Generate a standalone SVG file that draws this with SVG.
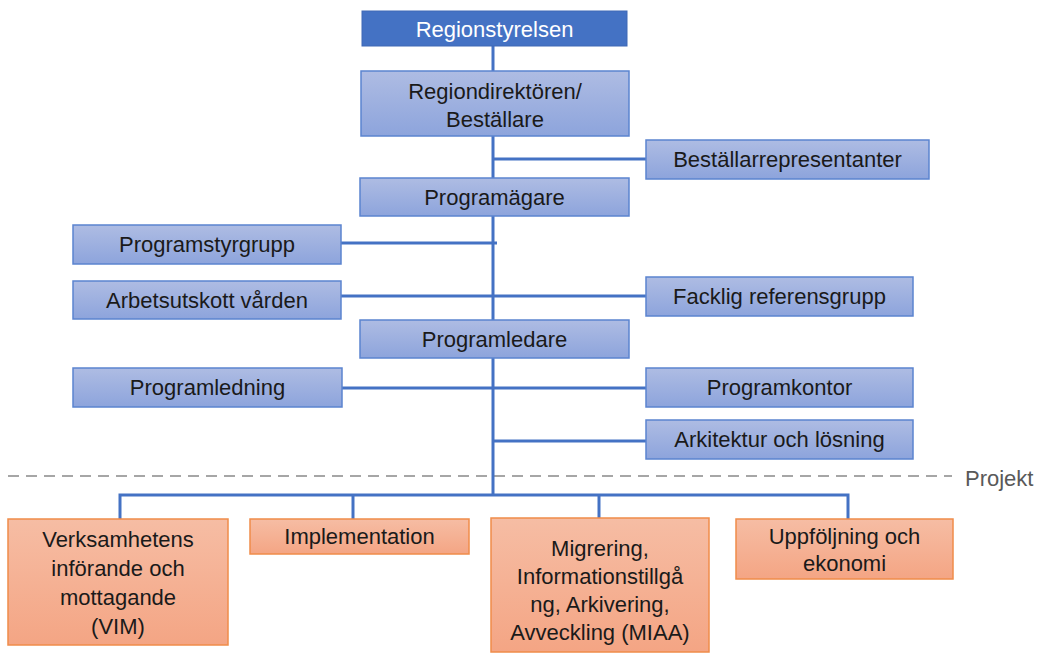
<svg xmlns="http://www.w3.org/2000/svg" width="1040" height="654" viewBox="0 0 1040 654">
<defs>
<linearGradient id="gb" x1="0" y1="0" x2="0" y2="1"><stop offset="0" stop-color="#AEBCE3"/><stop offset="1" stop-color="#8DA4DC"/></linearGradient>
<linearGradient id="go" x1="0" y1="0" x2="0" y2="1"><stop offset="0" stop-color="#F6BDA4"/><stop offset="1" stop-color="#F4A584"/></linearGradient>
</defs>
<style>
.b{fill:url(#gb);stroke:#5B84CF;stroke-width:1.5}
.o{fill:url(#go);stroke:#F08C4A;stroke-width:1.5}
.t{font-family:"Liberation Sans",Arial,sans-serif;font-size:22px;fill:#1a1a1a;text-anchor:middle;dominant-baseline:central}
.w{fill:#ffffff}
.c{stroke:#4472C4;stroke-width:3;fill:none}
</style>
<line x1="8" y1="476" x2="952" y2="476" stroke="#A6A6A6" stroke-width="2" stroke-dasharray="11,7"/>
<text x="965" y="478" class="t" style="text-anchor:start;fill:#595959">Projekt</text>
<g id="connectors">
<line class="c" x1="493" y1="46" x2="493" y2="495"/>
<line class="c" x1="493" y1="159" x2="646" y2="159"/>
<line class="c" x1="341" y1="243" x2="497" y2="243"/>
<line class="c" x1="341" y1="296" x2="646" y2="296"/>
<line class="c" x1="342" y1="388" x2="646" y2="388"/>
<line class="c" x1="493" y1="441" x2="646" y2="441"/>
<polyline class="c" points="120,519 120,495 848,495 848,519"/>
<line class="c" x1="353" y1="495" x2="353" y2="519"/>
<line class="c" x1="599" y1="495" x2="599" y2="518"/>
</g>
<g id="regionstyrelsen"><rect x="362" y="11" width="265" height="35" fill="#4472C4" stroke="#3F68B5" stroke-width="1"/><text x="494.5" y="29" class="t w">Regionstyrelsen</text></g>
<g id="regiondirektoren"><rect class="b" x="361" y="71" width="268" height="65"/><text x="495" y="91" class="t">Regiondirektören/</text><text x="495" y="119" class="t">Beställare</text></g>
<g id="bestallarrepresentanter"><rect class="b" x="646" y="140" width="283" height="39"/><text x="787.5" y="159.5" class="t">Beställarrepresentanter</text></g>
<g id="programagare"><rect class="b" x="360" y="178" width="269" height="38"/><text x="494.5" y="197" class="t">Programägare</text></g>
<g id="programstyrgrupp"><rect class="b" x="73" y="225" width="268" height="39"/><text x="207" y="244.5" class="t">Programstyrgrupp</text></g>
<g id="arbetsutskott"><rect class="b" x="73" y="281" width="268" height="38"/><text x="207" y="300" class="t">Arbetsutskott vården</text></g>
<g id="facklig"><rect class="b" x="646" y="277" width="267" height="39"/><text x="779.5" y="296.5" class="t">Facklig referensgrupp</text></g>
<g id="programledare"><rect class="b" x="360" y="320" width="269" height="38"/><text x="494.5" y="339" class="t">Programledare</text></g>
<g id="programledning"><rect class="b" x="73" y="368" width="269" height="39"/><text x="207.5" y="387.5" class="t">Programledning</text></g>
<g id="programkontor"><rect class="b" x="646" y="368" width="267" height="39"/><text x="779.5" y="387.5" class="t">Programkontor</text></g>
<g id="arkitektur"><rect class="b" x="646" y="420" width="267" height="39"/><text x="779.5" y="439.5" class="t">Arkitektur och lösning</text></g>
<g id="vim"><rect class="o" x="8" y="519" width="220" height="126"/><text x="118" y="539" class="t">Verksamhetens</text><text x="118" y="568" class="t">införande och</text><text x="118" y="597" class="t">mottagande</text><text x="118" y="626" class="t">(VIM)</text></g>
<g id="implementation"><rect class="o" x="250" y="519" width="219" height="35"/><text x="359.5" y="536.5" class="t">Implementation</text></g>
<g id="miaa"><rect class="o" x="491" y="518" width="218" height="134"/><text x="600" y="548" class="t">Migrering,</text><text x="600" y="576" class="t">Informationstillgå</text><text x="600" y="604" class="t">ng, Arkivering,</text><text x="600" y="632" class="t">Avveckling (MIAA)</text></g>
<g id="uppfoljning"><rect class="o" x="736" y="519" width="217" height="60"/><text x="844.5" y="536" class="t">Uppföljning och</text><text x="844.5" y="563" class="t">ekonomi</text></g>
</svg>
